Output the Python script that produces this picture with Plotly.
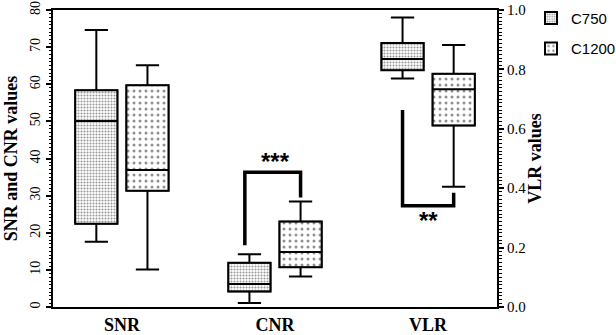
import plotly.graph_objects as go

categories = ["SNR", "CNR", "VLR"]
series_names = ["C750", "C1200"]

# Box statistics (SNR, CNR on left axis; VLR on right axis)
c750_low = [17.6, 1.1, 0.769]
c750_q1 = [22.4, 4.2, 0.797]
c750_med = [50.1, 6.2, 0.835]
c750_q3 = [58.4, 11.9, 0.889]
c750_high = [74.6, 14.2, 0.975]

c1200_low = [10.1, 8.2, 0.405]
c1200_q1 = [31.3, 10.7, 0.611]
c1200_med = [36.9, 14.8, 0.733]
c1200_q3 = [59.7, 23.0, 0.785]
c1200_high = [65.1, 28.4, 0.882]

left_ticks = [0, 10, 20, 30, 40, 50, 60, 70, 80]
right_ticks = [0.0, 0.2, 0.4, 0.6, 0.8, 1.0]

OFFSET = 0.167
BOXW = 0.276
SERIF = "Liberation Serif"
SANS = "Liberation Sans"

patterns = [
    dict(shape=".", size=3, solidity=0.4, fgcolor="#333", bgcolor="white"),
    dict(shape=".", size=6, solidity=0.2, fgcolor="#222", bgcolor="white"),
]

fig = go.Figure()
stats = [
    (c750_low, c750_q1, c750_med, c750_q3, c750_high),
    (c1200_low, c1200_q1, c1200_med, c1200_q3, c1200_high),
]
for s, (lo, q1, med, q3, hi) in enumerate(stats):
    sign = -1 if s == 0 else 1
    for i, cat in enumerate(categories):
        pos = i + sign * OFFSET
        yax = "y2" if cat == "VLR" else "y"
        fig.add_trace(go.Bar(
            x=[pos], y=[q3[i] - q1[i]], base=[q1[i]], width=BOXW,
            marker=dict(color="white", pattern=patterns[s],
                        line=dict(width=1.5, color="black")),
            name=series_names[s], legendgroup=series_names[s],
            showlegend=(i == 0), yaxis=yax, hoverinfo="skip",
        ))
        fig.add_trace(go.Box(
            x=[pos], q1=[q1[i]], median=[med[i]], q3=[q3[i]],
            lowerfence=[lo[i]], upperfence=[hi[i]],
            width=BOXW, whiskerwidth=0.55,
            fillcolor="rgba(0,0,0,0)", line=dict(color="black", width=2),
            showlegend=False, yaxis=yax, boxpoints=False,
        ))

# significance brackets
fig.add_trace(go.Scatter(
    x=[1 - OFFSET - 0.03, 1 - OFFSET - 0.03, 1 + OFFSET, 1 + OFFSET],
    y=[16.6, 36.3, 36.3, 29.5], mode="lines",
    line=dict(color="black", width=3.5), showlegend=False, hoverinfo="skip",
))
fig.add_trace(go.Scatter(
    x=[2 - OFFSET, 2 - OFFSET, 2 + OFFSET, 2 + OFFSET],
    y=[0.663, 0.341, 0.341, 0.385], mode="lines", yaxis="y2",
    line=dict(color="black", width=3.5), showlegend=False, hoverinfo="skip",
))
fig.add_annotation(x=1, y=39.3, text="<b>***</b>", showarrow=False,
                   font=dict(family=SANS, size=24, color="black"))
fig.add_annotation(x=2, y=0.29, yref="y2", text="<b>**</b>", showarrow=False,
                   font=dict(family=SANS, size=24, color="black"))
# right axis title
fig.add_annotation(xref="paper", yref="paper", x=1.084, y=0.5, textangle=-90,
                   xanchor="center", yanchor="middle",
                   text="<b>VLR values</b>", showarrow=False,
                   font=dict(family=SERIF, size=18, color="black"))

fig.update_layout(
    width=616, height=335,
    margin=dict(l=44, r=119, t=10, b=28),
    paper_bgcolor="white", plot_bgcolor="white",
    barmode="overlay", boxmode="overlay",
    xaxis=dict(
        range=[-0.45, 2.45], tickvals=[0, 1, 2], ticktext=categories,
        showline=True, linecolor="black", linewidth=2, mirror=True,
        ticks="", showgrid=False, zeroline=False, automargin=False,
        tickfont=dict(family=SERIF, size=18, color="black", weight="bold"),
    ),
    yaxis=dict(
        range=[0, 80], tickvals=left_ticks, tickangle=-90,
        showline=True, linecolor="black", linewidth=2, automargin="left",
        ticks="outside", ticklen=5, tickwidth=1.5, tickcolor="black",
        minor=dict(dtick=1, ticks="outside", ticklen=2.5, tickcolor="black", tickwidth=1),
        showgrid=False, zeroline=False,
        tickfont=dict(family=SERIF, size=14, color="black"),
        title=dict(text="<b>SNR and CNR values</b>", standoff=6,
                   font=dict(family=SERIF, size=18, color="black")),
    ),
    yaxis2=dict(
        range=[0, 1.0], tickvals=right_ticks, tickformat=".1f",
        overlaying="y", side="right", automargin=False,
        showline=True, linecolor="black", linewidth=2,
        ticks="outside", ticklen=5, tickwidth=1.5, tickcolor="black",
        minor=dict(dtick=0.0125, ticks="outside", ticklen=2.5, tickcolor="black", tickwidth=1),
        showgrid=False, zeroline=False,
        tickfont=dict(family=SERIF, size=15, color="black"),
    ),
    legend=dict(xref="container", yref="container", x=0.862, xanchor="left",
                y=0.995, yanchor="top",
                font=dict(family=SANS, size=15, color="black"),
                itemsizing="constant", tracegroupgap=8, bgcolor="rgba(0,0,0,0)"),
)

fig.write_html("out.html")
